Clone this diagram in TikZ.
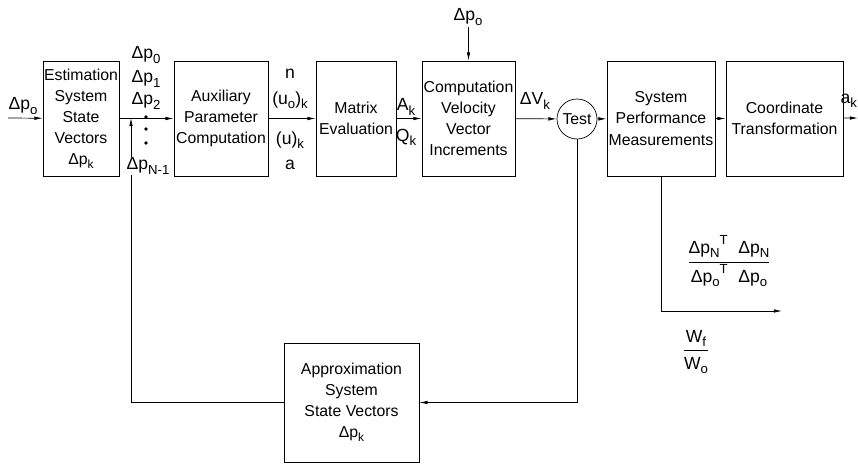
\documentclass[tikz,border=0pt]{standalone}
\usepackage{fontspec}
\usepackage{graphicx}
\setmainfont{Liberation Sans}
\usetikzlibrary{arrows.meta}
\newcommand{\sbs}[1]{\raisebox{-0.45ex}{\scalebox{0.75}{#1}}}
\newcommand{\sps}[1]{\raisebox{0.95ex}{\scalebox{0.75}{#1}}}
\newcommand{\dP}[1]{Δp\sbs{#1}}
\setlength{\arrayrulewidth}{0.6pt}

\begin{document}
\begin{tikzpicture}[x=0.03cm, y=-0.03cm, line width=0.6pt,
    every node/.style={font=\fontsize{13.5}{18}\selectfont},
    block/.style={draw, align=center, inner sep=0pt, minimum height=3.45cm},
    lbl/.style={inner sep=1pt, font=\fontsize{15}{18}\selectfont},
    arr/.style={-{Latex[length=7pt,width=3pt]}}]
  \useasboundingbox (0,0) rectangle (858,463);
  % blocks
  \node[block, minimum width=2.28cm] (est) at (81,118.5) {Estimation\\System\\State\\Vectors\\\dP{k}};
  \node[block, minimum width=2.82cm] (aux) at (221,118.5) {Auxiliary\\Parameter\\Computation};
  \node[block, minimum width=2.40cm] (mat) at (356,118.5) {Matrix\\Evaluation};
  \node[block, minimum width=2.79cm] (comp) at (468.5,118.5) {Computation\\Velocity\\Vector\\Increments};
  \node[draw, circle, minimum size=1.2cm, inner sep=0pt] (test) at (577,119) {Test};
  \node[block, minimum width=3.24cm] (spm) at (661,118.5) {System\\Performance\\Measurements};
  \node[block, minimum width=3.51cm] (xform) at (784.5,118.5) {Coordinate\\Transformation};
  \node[block, minimum width=4.05cm, minimum height=3.57cm] (approx) at (351.5,402.5) {Approximation\\System\\State Vectors\\\dP{k}};
  % free ends
  \coordinate (in) at (8,118);
  \coordinate (jn) at (131,118);
  \coordinate (out) at (858,118);
  \coordinate (perf) at (782,311);
  % connectors
  \draw[arr] (in) -- (est);
  \draw[arr] (est) -- (aux);
  \draw[arr] (aux) -- (mat);
  \draw[arr] (mat) -- (comp);
  \draw[arr] (comp) -- (test);
  \draw[arr] (test) -- (spm);
  \draw[arr] (spm) -- (xform);
  \draw[arr] (xform) -- (out);
  \draw[arr] (test.south) |- (approx.east);
  \draw[arr] (approx.west) -| (jn);
  \draw[arr] (spm.south) |- (perf);
  \foreach \y in {117,129,143}
    \fill (146,\y) circle (1.6pt);
  % labels
  \node[lbl] (lin) at (23,106) {\dP{o}};
  \node[lbl] (l0) at (146,55) {\dP{0}};
  \node[lbl] (l1) at (146,79) {\dP{1}};
  \node[lbl] (l2) at (146,101) {\dP{2}};
  \node[lbl, fill=white] (lN) at (148,166) {\dP{N-1}};
  \node[lbl] (ln) at (290,74) {n};
  \node[lbl] (luo) at (290,100) {(u\sbs{o})\sbs{k}};
  \node[lbl] (lu) at (290,140) {(u)\sbs{k}};
  \node[lbl] (la) at (290,165) {a};
  \node[lbl] (lA) at (406,107) {A\sbs{k}};
  \node[lbl] (lQ) at (406,137) {Q\sbs{k}};
  \node[lbl] (lV) at (535,101) {ΔV\sbs{k}};
  \node[lbl] (ltop) at (468,17) {\dP{o}};
  \draw[arr] (ltop.south -| comp.north) -- (comp.north);
  \node[lbl, anchor=east, inner sep=0.5pt] (lak) at (858,101) {a\sbs{k}};
  \node[lbl] (ratio) at (729,262) {\begin{tabular}{@{}c@{}}Δp\sbs{N}\sps{T}\hspace{0.6em}\dP{N}\\[2pt]\hline\rule{0pt}{17pt}Δp\sbs{o}\sps{T}\hspace{0.6em}\dP{o}\end{tabular}};
  \node[lbl] (wratio) at (696,352) {\begin{tabular}{@{}c@{}}W\sbs{f}\\[1pt]\hline\rule{0pt}{16pt}W\sbs{o}\end{tabular}};
\end{tikzpicture}
\end{document}
